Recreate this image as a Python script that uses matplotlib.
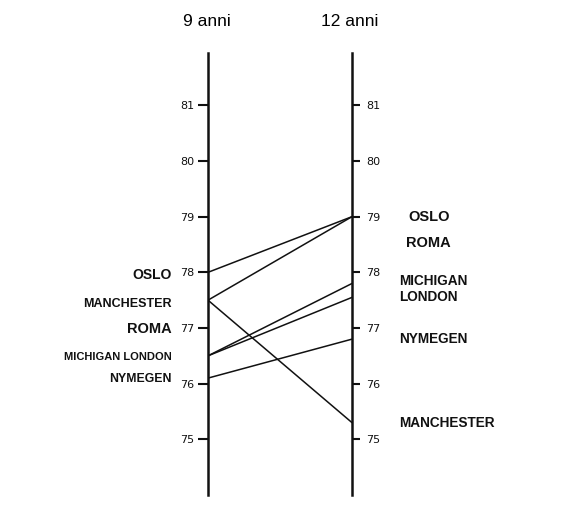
import matplotlib.pyplot as plt
import numpy as np

# speranza di vita / valori
cities = ['OSLO', 'MANCHESTER', 'ROMA', 'MICHIGAN', 'LONDON', 'NYMEGEN']
age_9 = [78.0, 77.5, 77.5, 76.5, 76.5, 76.1]
age_12 = [79.0, 75.3, 79.0, 77.8, 77.55, 76.8]
ticks = [75, 76, 77, 78, 79, 80, 81]

# etichette a sinistra (alcune unite) e a destra
left_labels = ['OSLO', 'MANCHESTER', 'ROMA', 'MICHIGAN LONDON', 'NYMEGEN']
left_label_y = [77.95, 77.43, 76.98, 76.48, 76.08]
left_label_size = [10, 9, 10.5, 8, 8.8]
right_labels = ['OSLO', 'ROMA', 'MICHIGAN', 'LONDON', 'NYMEGEN', 'MANCHESTER']
right_label_y = [79.0, 78.52, 77.84, 77.55, 76.8, 75.3]
right_label_x = [1.39, 1.375, 1.33, 1.33, 1.33, 1.33]
right_label_size = [10.5, 10.5, 9.8, 9.8, 9.8, 9.8]

fig = plt.figure(figsize=(5.69, 5.19), dpi=100)
ax = fig.add_axes([208/569, 24/519, 144/569, 442/519])
ax.set_xlim(0, 1)
ax.set_ylim(74.0, 81.94)

ink = '#111111'

for a, b in zip(age_9, age_12):
    ax.plot([0, 1], [a, b], color=ink, lw=1.1, solid_capstyle='round')

for s in ['top', 'bottom', 'right']:
    ax.spines[s].set_visible(False)
ax.spines['left'].set_linewidth(1.8)
ax.spines['left'].set_color(ink)
ax.set_xticks([])
ax.set_yticks(ticks)
ax.tick_params(axis='y', direction='out', length=7, width=1.5, color=ink,
               labelsize=8, labelcolor=ink, pad=3)

ax2 = ax.twinx()
ax2.set_ylim(ax.get_ylim())
for s in ['top', 'bottom', 'left']:
    ax2.spines[s].set_visible(False)
ax2.spines['right'].set_linewidth(1.8)
ax2.spines['right'].set_color(ink)
ax2.set_yticks(ticks)
ax2.tick_params(axis='y', direction='out', length=6, width=1.5, color=ink,
                labelsize=8, labelcolor=ink, pad=4)

for lab, y, fs in zip(left_labels, left_label_y, left_label_size):
    ax.text(-0.25, y, lab, ha='right', va='center', fontsize=fs,
            fontweight='bold', color=ink, family='Liberation Sans')

for lab, x, y, fs in zip(right_labels, right_label_x, right_label_y, right_label_size):
    ax.text(x, y, lab, ha='left', va='center', fontsize=fs,
            fontweight='bold', color=ink, family='Liberation Sans')

fig.text(207/569, 1 - 22/519, '9 anni', ha='center', va='center',
         fontsize=12.5, family='Liberation Sans')
fig.text(350/569, 1 - 22/519, '12 anni', ha='center', va='center',
         fontsize=12.5, family='Liberation Sans')

fig.savefig('out.png', dpi=100, facecolor='white')
